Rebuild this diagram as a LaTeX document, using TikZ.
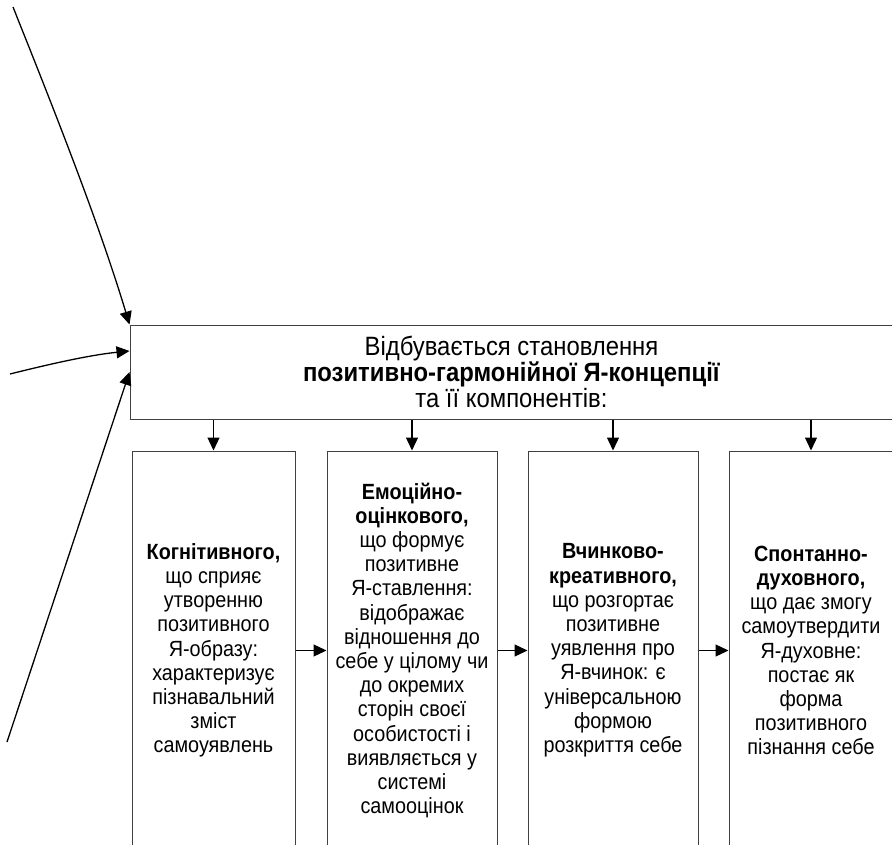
\documentclass[tikz,border=0pt]{standalone}
\usepackage{fontspec}
\setmainfont{Liberation Sans}
\newfontfamily\boxfont{Liberation Sans}[FakeStretch=0.9]
\newfontfamily\titlefont{Liberation Sans}[FakeStretch=0.9]
\usetikzlibrary{arrows.meta}
\begin{document}
\begin{tikzpicture}[x=1pt,y=-1pt,
  frame/.style={draw=black!75,line width=1pt,inner sep=0pt,align=center},
  comp/.style={frame,minimum height=399pt,
    font=\boxfont\fontsize{22}{24.2}\selectfont},
  link/.style={line width=1.3pt,-{Triangle[length=13pt,width=12pt]}}]
\useasboundingbox (0,0) rectangle (892,845);
\clip (0,0) rectangle (892,845);

% central statement
\node[frame,minimum width=763pt,minimum height=94pt,
      font=\titlefont\fontsize{26.5}{24.2}\selectfont] (main) at (511.5,372)
  {Відбувається становлення\\
   \textbf{позитивно-гармонійної Я-концепції}\\
   та її компонентів:};

% four components
\node[comp,minimum width=163pt] (b1) at (213.5,650.5)
  {\textbf{Когнітивного,}\\що сприяє\\утворенню\\позитивного\\Я-образу:\\
   характеризує\\пізнавальний\\зміст\\самоуявлень};
\node[comp,minimum width=170pt] (b2) at (412,650.5)
  {\textbf{Емоційно-}\\\textbf{оцінкового,}\\що формує\\позитивне\\Я-ставлення:\\
   відображає\\відношення до\\себе у цілому чи\\до окремих\\сторін своєї\\
   особистості і\\виявляється у\\системі\\самооцінок};
\node[comp,minimum width=170pt] (b3) at (613,650.5)
  {\textbf{Вчинково-}\\\textbf{креативного,}\\що розгортає\\позитивне\\уявлення про\\
   Я-вчинок: є\\універсальною\\формою\\розкриття себе};
\node[comp,minimum width=164pt] (b4) at (811,650.5)
  {\textbf{Спонтанно-}\\\textbf{духовного,}\\що дає змогу\\самоутвердити\\Я-духовне:\\
   постає як\\форма\\позитивного\\пізнання себе};

% from the statement down to each component
\foreach \b in {b1,b2,b3,b4}
  \draw[link] (main.south -| \b.north) -- (\b.north);

% chain between components
\draw[link] (b1.east) -- (b2.west);
\draw[link] (b2.east) -- (b3.west);
\draw[link] (b3.east) -- (b4.west);

% incoming lines from the left
\coordinate (in1) at (13,7);
\coordinate (in2) at (10,374);
\coordinate (in3) at (7,742);
\draw[link] (in1) .. controls (53,107) and (99,223) .. (main.north west);
\draw[link] (in2) .. controls (50,364) and (90,355) .. (main.west |- 0,351);
\draw[link] (in3) -- (main.west);
\end{tikzpicture}
\end{document}
